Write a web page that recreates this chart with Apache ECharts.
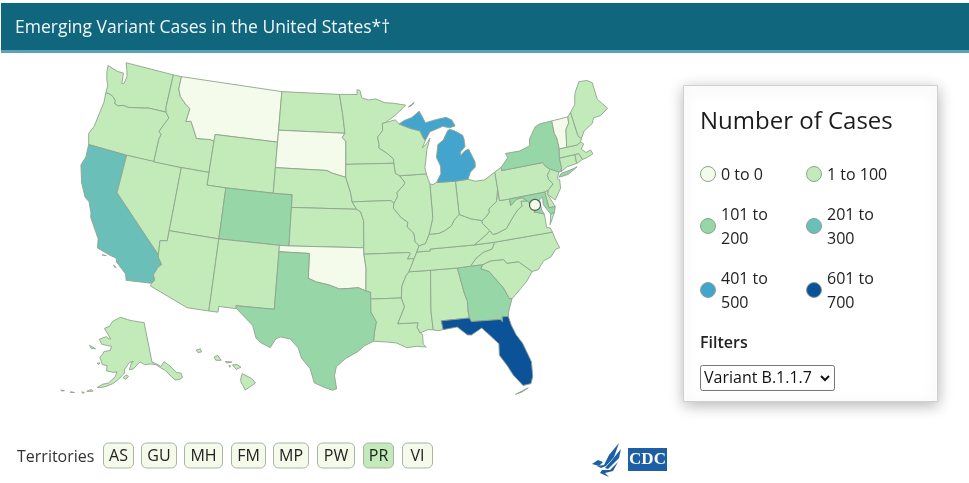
<!DOCTYPE html>
<html>
<head>
<meta charset="utf-8">
<title>Emerging Variant Cases in the United States</title>
<script src="https://cdn.jsdelivr.net/npm/echarts@6/dist/echarts.min.js"></script>
<style>
html, body { margin: 0; padding: 0; background: #fff; }
#main { width: 969px; height: 483px; }
</style>
</head>
<body>
<div id="main"></div>
<script>
// case counts (each is only known to its bin)
const stateNames = ['AL','AK','AZ','AR','CA','CO','CT','DE','FL','GA','HI','ID','IL','IN','IA','KS','KY','LA','ME','MD','MA','MI','MN','MS','MO','MT','NE','NV','NH','NJ','NM','NY','NC','ND','OH','OK','OR','PA','RI','SC','SD','TN','TX','UT','VT','VA','WA','WV','WI','WY'];
const stateValues = [30,5,60,10,280,150,40,15,650,160,10,6,90,50,20,15,12,80,4,120,70,450,80,10,15,0,8,20,8,90,12,170,60,3,30,0,15,60,10,30,0,30,140,40,0,40,35,8,50,3];
const dcPoint = [-77.03, 38.9];
const dcValue = 0;

const binLabels = ['0 to 0','1 to 100','101 to\n200','201 to\n300','401 to\n500','601 to\n700'];
const binMins = [0,1,101,201,401,601];
const binMaxs = [0,100,200,300,500,700];
const binColors = ['#f5fbea','#c2ebb9','#97d6a7','#6abfb9','#43a5cd','#0b5299'];

const territoryNames = ['AS','GU','MH','FM','MP','PW','PR','VI'];
const territoryValues = [0,0,0,0,0,0,20,0];

// state outlines, "lon lat" pairs with west longitude written positive
const stateShapes = {
  WA: ['124.73 48.38,123.5 48.15,122.75 48.15,122.6 47.3,122.35 47.4,122.25 48,122.5 48.5,122.8 49,117.03 49,117.04 46.42,116.92 46,118.98 46,119.3 45.93,121.2 45.65,121.8 45.7,122.3 45.55,122.76 45.65,122.8 45.9,123.2 46.15,123.55 46.25,124.05 46.27,124.1 46.9,124.4 47.3,124.65 47.9'],
  OR: ['124.05 46.27,123.95 45.5,124.07 44.6,124.2 43.5,124.55 42.84,124.2 42,120 42,117.03 42,117.03 43.8,116.9 44.2,117.2 44.4,116.85 45,116.46 45.6,116.92 46,118.98 46,119.3 45.93,121.2 45.65,121.8 45.7,122.3 45.55,122.76 45.65,122.8 45.9,123.2 46.15,123.55 46.25'],
  CA: ['124.2 42,120 42,120 39,114.63 35,114.57 34.8,114.14 34.3,114.43 34.05,114.72 33.4,114.5 33,114.72 32.72,117.12 32.53,117.3 33,118.4 33.75,118.5 34.03,119.2 34.15,120.5 34.45,120.65 35.15,121.9 36.6,122 36.95,122.5 37.75,123 38,123.75 39,124.35 40.3,124.1 41',
       '119.9 34.02,119.5 34.04,119.55 33.95','118.6 33.47,118.3 33.33,118.45 33.33'],
  NV: ['120 42,114.04 42,114.04 37,114.04 36.2,114.74 36.1,114.63 35,120 39'],
  ID: ['117.03 49,116.05 49,116.05 48,115.7 47.45,114.95 46.95,114.35 46.65,114.5 45.6,113.95 45.7,113.45 45.05,113 44.45,111.5 44.55,111.05 44.48,111.05 42,114.04 42,117.03 42,117.03 43.8,116.9 44.2,117.2 44.4,116.85 45,116.46 45.6,116.92 46,117.04 46.42'],
  MT: ['116.05 49,104.05 49,104.05 45.94,104.05 45,111.05 45,111.05 44.48,111.5 44.55,113 44.45,113.45 45.05,113.95 45.7,114.5 45.6,114.35 46.65,114.95 46.95,115.7 47.45,116.05 48'],
  WY: ['111.05 45,104.05 45,104.05 43,104.05 41,109.05 41,111.05 41,111.05 42,111.05 44.48'],
  UT: ['114.04 42,111.05 42,111.05 41,109.05 41,109.05 37,114.04 37'],
  CO: ['109.05 41,104.05 41,102.05 41,102.05 40,102.05 37,103 37,109.05 37'],
  AZ: ['114.04 37,109.05 37,109.05 31.33,111.07 31.33,114.8 32.5,114.72 32.72,114.5 33,114.72 33.4,114.43 34.05,114.14 34.3,114.57 34.8,114.63 35,114.74 36.1,114.04 36.2'],
  NM: ['109.05 37,103 37,103 36.5,103.04 32,106.62 32,106.53 31.78,108.2 31.78,108.2 31.33,109.05 31.33'],
  ND: ['104.05 49,97.23 49,96.85 47.5,96.56 45.94,104.05 45.94'],
  SD: ['104.05 45.94,96.56 45.94,96.85 45.6,96.45 45.3,96.45 43.5,96.45 42.49,97.9 42.8,98.5 43,104.05 43,104.05 45'],
  NE: ['104.05 43,98.5 43,97.9 42.8,96.45 42.49,96.1 41.7,95.9 41.2,95.77 40.58,95.31 40,102.05 40,102.05 41,104.05 41'],
  KS: ['102.05 40,95.31 40,94.9 39.8,94.6 39.1,94.62 37,102.05 37'],
  OK: ['103 37,102.05 37,94.62 37,94.62 36.5,94.43 35.4,94.48 33.64,95.2 33.9,96 33.85,97 33.8,98 34.1,99.2 34.3,100 34.56,100 36.5,103 36.5'],
  TX: ['103 36.5,100 36.5,100 34.56,99.2 34.3,98 34.1,97 33.8,96 33.85,95.2 33.9,94.48 33.64,94.04 33.55,94.04 33,94.04 32,93.55 31.2,93.75 30.4,93.85 29.7,94.7 29.35,95.3 28.9,96.4 28.35,97.2 27.7,97.35 27,97.15 25.96,97.5 25.85,98.2 26.05,99.1 26.4,99.5 27.5,100.3 28.3,100.65 29.1,101.4 29.77,102.3 29.88,102.7 29.7,103.15 28.98,104 29.3,104.5 29.65,104.9 30.6,106 31.4,106.53 31.78,106.62 32,103.04 32'],
  MN: ['97.23 49,95.15 49,95.15 49.38,94.8 49.32,94.6 48.72,93.8 48.55,92.95 48.62,92 48.3,90.8 48.2,89.5 48,90.8 47.25,92 46.7,92.3 46.66,92.3 46.1,92.9 45.6,92.75 45,92.8 44.75,91.9 44.3,91.25 43.85,91.22 43.5,96.45 43.5,96.45 45.3,96.85 45.6,96.56 45.94,96.85 47.5'],
  IA: ['96.45 43.5,91.22 43.5,91.1 42.7,90.65 42.5,90.15 41.95,90.3 41.75,91.05 41.2,91 40.9,91.42 40.38,91.73 40.61,95.77 40.58,95.9 41.2,96.1 41.7,96.45 42.49'],
  MO: ['95.77 40.58,91.73 40.61,91.42 40.38,91.5 40,90.75 39.25,90.1 38.85,90.2 38.5,89.55 37.95,89.5 37.3,89.13 36.98,89.4 36.5,89.7 36,90.37 36,90.07 36.4,90.15 36.5,94.62 36.5,94.62 37,94.6 39.1,94.9 39.8,95.31 40'],
  AR: ['94.62 36.5,90.15 36.5,90.07 36.4,90.37 36,89.7 36,90.05 35.4,90.3 35,90.6 34.7,91.05 33.9,91.15 33,94.04 33,94.04 33.55,94.48 33.64,94.43 35.4'],
  LA: ['94.04 33,91.15 33,90.9 32.3,91.6 31,89.73 31,89.85 30.65,89.6 30.18,89.4 30.05,89.4 29.8,89.4 29.3,89.15 29.05,90 29.15,90.9 29.1,91.8 29.5,92.6 29.6,93.85 29.7,93.75 30.4,93.55 31.2,94.04 32'],
  MS: ['90.3 35,88.2 35,88.47 31.9,88.4 30.35,88.9 30.4,89.6 30.18,89.85 30.65,89.73 31,91.6 31,90.9 32.3,91.15 33,91.05 33.9,90.6 34.7'],
  AL: ['88.2 35,85.6 34.98,85.18 32.87,85 32.3,85.05 31.55,85 31,87.6 31,87.5 30.3,88 30.25,88.4 30.35,88.47 31.9'],
  GA: ['85.6 34.98,84.32 35,83.1 35,83.35 34.7,82.6 34.4,81.9 33.5,81.5 33,81.1 32.1,80.85 32.03,81.3 31.2,81.45 30.72,82 30.75,82.05 30.36,82.2 30.57,84.86 30.7,85 31,85.05 31.55,85 32.3,85.18 32.87'],
  FL: ['87.6 31,85 31,84.86 30.7,82.2 30.57,82.05 30.36,82 30.75,81.45 30.72,81.3 30,81 29.2,80.55 28.45,80.05 26.9,80.15 25.75,80.4 25.2,81.1 25.15,81.8 26.1,82.2 26.9,82.75 27.8,82.65 28.7,83.4 29.5,84 30.1,85 29.65,85.35 29.7,86.2 30.4,87.5 30.3',
       '81.85 24.55,81.3 24.65,80.7 24.9,81.2 24.75'],
  SC: ['83.35 34.7,83.1 35,82.35 35.2,81.05 35.15,80.8 34.82,79.67 34.8,78.55 33.86,79.2 33.2,79.9 32.7,80.85 32.03,81.1 32.1,81.5 33,81.9 33.5,82.6 34.4'],
  NC: ['84.32 35,83.1 35,82.35 35.2,81.05 35.15,80.8 34.82,79.67 34.8,78.55 33.86,77.95 33.9,77.3 34.5,76.5 34.7,75.9 35.2,75.5 35.25,75.75 36,75.87 36.55,81.68 36.59,82 36.1,82.9 35.95,83.7 35.55'],
  TN: ['90.3 35,88.2 35,85.6 34.98,84.32 35,83.7 35.55,82.9 35.95,82 36.1,81.68 36.59,83.67 36.6,88.07 36.65,88.07 36.5,89.4 36.5,89.7 36,90.05 35.4'],
  KY: ['89.4 36.5,88.07 36.5,88.07 36.65,83.67 36.6,82.3 37.3,81.97 37.54,82.6 38.17,82.6 38.4,83.7 38.65,84.3 38.9,84.82 39.1,85.4 38.7,85.75 38.27,86.5 37.95,87.1 37.8,88.05 37.8,88.5 37.1,89.13 36.98'],
  VA: ['83.67 36.6,81.68 36.59,75.87 36.55,76 36.9,76.35 37,76.3 37.6,76.3 38.05,76.95 38.3,77.25 38.35,77.05 38.8,77.5 39.1,77.72 39.32,78.35 39.4,78.35 39,78.87 38.76,79.3 38.42,80.3 37.5,81.25 37.25,81.7 37.2,81.97 37.54,82.3 37.3',
       '75.65 37.95,75.25 38.03,75.95 37.15'],
  WV: ['81.97 37.54,81.7 37.2,81.25 37.25,80.3 37.5,79.3 38.42,78.87 38.76,78.35 39,78.35 39.4,77.72 39.32,78.2 39.65,78.75 39.6,79.48 39.2,79.48 39.72,80.52 39.72,80.52 40.64,80.85 39.7,81.75 39.2,81.75 38.95,82.2 38.6,82.6 38.4,82.6 38.17'],
  OH: ['84.82 39.1,84.3 38.9,83.7 38.65,82.6 38.4,82.2 38.6,81.75 38.95,81.75 39.2,80.85 39.7,80.52 40.64,80.52 41.98,81.7 41.5,82.7 41.5,83.45 41.73,84.8 41.7'],
  IN: ['87.52 41.7,87.2 41.62,86.8 41.76,84.8 41.7,84.82 39.1,85.4 38.7,85.75 38.27,86.5 37.95,87.1 37.8,88.05 37.8,87.55 39,87.53 39.35'],
  IL: ['90.65 42.5,87.8 42.5,87.52 41.7,87.53 39.35,87.55 39,88.05 37.8,88.5 37.1,89.13 36.98,89.5 37.3,89.55 37.95,90.2 38.5,90.1 38.85,90.75 39.25,91.5 40,91.42 40.38,91 40.9,91.05 41.2,90.3 41.75,90.15 41.95'],
  WI: ['92.3 46.66,90.8 46.9,90.4 46.55,89.1 46.13,88.1 45.9,87.8 45.35,87.6 45.1,88 44.55,87.5 44.85,87.05 45.25,87.5 44.4,87.75 43.5,87.9 43,87.8 42.5,90.65 42.5,91.1 42.7,91.22 43.5,91.25 43.85,91.9 44.3,92.8 44.75,92.75 45,92.9 45.6,92.3 46.1'],
  MI: ['90.4 46.55,89.1 46.13,88.1 45.9,87.8 45.35,87.6 45.1,87 45.75,86.3 45.9,85.5 46.08,84.75 45.9,84.1 46,84.4 46.5,85 46.75,86.1 46.67,87.4 46.5,88 47.45,88.9 47,89.8 46.8',
       '86.8 41.76,86.25 42.4,86.2 43,86.55 43.7,86.25 44.7,85.6 45,85 45.7,84.75 45.78,84.2 45.6,83.4 45.2,83.3 44.85,83.3 44.3,83.9 43.9,83.9 43.65,83.4 43.95,82.95 44.06,82.45 43,82.5 42.6,83.1 42.25,83.45 41.73,84.8 41.7',
       '89.2 47.85,88.5 48.17,88.9 47.9'],
  PA: ['80.52 41.98,79.76 42.27,79.76 42,75.35 42,75.05 41.6,74.7 41.36,75.15 40.95,75.1 40.6,74.75 40.2,75.4 39.8,75.79 39.72,79.48 39.72,80.52 39.72,80.52 40.64'],
  NY: ['79.76 42.27,78.9 42.9,79.05 43.27,77.5 43.25,76.3 43.5,76.2 44,75.3 44.85,74.7 45,73.35 45.01,73.4 44,73.25 43.6,73.27 42.75,73.5 42.05,73.5 41.3,73.65 41,73.9 41,74.7 41.36,75.05 41.6,75.35 42,79.76 42',
       '74 40.6,73 40.65,71.9 41.05,72.6 40.95,73.7 40.85'],
  NJ: ['74.7 41.36,73.9 41,74.2 40.5,74 40.4,74.1 39.75,74.9 38.95,75.55 39.5,75.4 39.8,74.75 40.2,75.1 40.6,75.15 40.95'],
  DE: ['75.79 39.72,75.4 39.8,75.55 39.5,75.05 38.45,75.7 38.46'],
  MD: ['79.48 39.72,75.79 39.72,75.7 38.46,75.05 38.45,75.25 38.03,75.65 37.95,75.9 38.3,76.2 38.8,76.1 39.4,76.5 39.2,76.45 38.4,76.3 38.05,76.95 38.3,77.25 38.35,77.05 38.8,77.5 39.1,77.72 39.32,78.2 39.65,78.75 39.6,79.48 39.2'],
  CT: ['73.5 42.05,71.8 42.02,71.85 41.32,72.9 41.25,73.65 41,73.5 41.3'],
  RI: ['71.8 42.02,71.38 42.02,71.15 41.5,71.85 41.32'],
  MA: ['73.27 42.75,72.46 42.73,71.3 42.7,70.85 42.87,70.6 42.65,71 42.3,70.6 41.95,70.05 42.05,69.95 41.7,70.65 41.55,71.15 41.5,71.38 42.02,71.8 42.02,73.5 42.05'],
  VT: ['73.35 45.01,71.5 45.01,71.6 44.5,72.05 44.1,72.46 42.73,73.27 42.75,73.25 43.6,73.4 44'],
  NH: ['71.5 45.01,71.08 45.3,70.97 43.4,70.7 43.08,70.85 42.87,71.3 42.7,72.46 42.73,72.05 44.1,71.6 44.5'],
  ME: ['71.08 45.3,70.4 45.8,70.25 46.2,70 46.7,69.23 47.45,68.3 47.35,67.8 47.07,67.8 45.7,67.45 45.3,67 44.8,68 44.4,68.8 44.4,69.1 44,70.2 43.6,70.7 43.08,70.97 43.4'],
  AK: ['141 69.65,141 60.3,139.5 59.9,137.5 58.9,135.5 59.8,133.5 58.4,131.8 56.6,130 56,130.1 55,131.5 54.8,133.2 55,134.5 56.2,136 57.8,137.5 58.5,139.5 59.6,142 60,144.5 60,146.5 60.8,148.5 60,150 59.3,151.8 59.2,150.5 60.9,149.7 61,151.5 60.9,152.5 60.3,154 59.2,154 58.4,156.5 57,158.5 56,161.5 55.1,163.5 54.7,164.9 54.6,163 55.5,160.5 56,158 57.5,157.3 58.7,158.8 58.5,162 58.7,162 59.9,164.3 60,165.3 61,166 61.6,164.8 62.5,164.5 63,161.2 63.5,161 64.5,163 64.5,166.3 64.6,168.1 65.6,164.5 66.5,163 66.1,161.8 66.1,163.7 67.1,166.5 68.3,163.5 69,162 70.2,159 70.9,156.6 71.35,152 70.8,148 70.4,144 70',
       '154.6 57.4,153.2 58,152.2 57.7,153.5 57','167 53.9,166.2 53.6,168 53.3,168.6 53.3','170.4 52.9,169.4 52.9,170 52.6','174.5 52.2,173 52.3,174.5 52','178.2 51.8,176.8 52,177.5 51.7','165.5 60.3,166.8 60.1,165.9 59.9','172.5 63.7,169 63.3,171 63.1'],
  HI: ['155.9 20.25,155.1 19.85,154.8 19.5,155.65 18.95,156.05 19.7','156.7 20.95,156.3 20.95,156 20.75,156.4 20.58','157.3 21.2,156.75 21.17,157.2 21.08','158.25 21.55,157.95 21.7,157.65 21.3,158.1 21.3','159.75 22.1,159.4 22.2,159.3 21.95,159.6 21.9','157 20.9,156.85 20.85,156.95 20.75']
};

function shapesToGeoJson() {
    var features = [];
    for (var name in stateShapes) {
        var polygons = stateShapes[name].map(function (ring) {
            var pts = ring.split(',').map(function (p) {
                var s = p.split(' ');
                return [-parseFloat(s[0]), parseFloat(s[1])];
            });
            pts.push(pts[0]);
            return [pts];
        });
        features.push({
            type: 'Feature',
            properties: { name: name },
            geometry: { type: 'MultiPolygon', coordinates: polygons }
        });
    }
    return { type: 'FeatureCollection', features: features };
}

// conic equal area, same setup as the usual composite USA map
function albers(lon0, p1, p2, cLon, cLat, k, tx, ty) {
    var r = Math.PI / 180;
    var n = (Math.sin(p1 * r) + Math.sin(p2 * r)) / 2;
    var c = Math.cos(p1 * r) * Math.cos(p1 * r) + 2 * n * Math.sin(p1 * r);
    var base = function (lon, lat) {
        var rho = Math.sqrt(c - 2 * n * Math.sin(lat * r)) / n;
        var t = n * (lon - lon0) * r;
        return [rho * Math.sin(t), rho * Math.cos(t)];
    };
    var o = base(cLon, cLat);
    return function (p) {
        var q = base(p[0], p[1]);
        return [tx + k * (q[0] - o[0]), ty + k * (q[1] - o[1])];
    };
}

const mapK = 730, mapX = 344, mapY = 226;
const lower48 = albers(-96, 29.5, 45.5, -96.6, 38.7, mapK, mapX, mapY);
const alaska = albers(-154, 55, 65, -156, 58.5, mapK * 0.34, mapX - 0.307 * mapK, mapY + 0.201 * mapK);
const hawaii = albers(-157, 8, 18, -160, 19.9, mapK, mapX - 0.207 * mapK, mapY + 0.208 * mapK);

function projectUsa(p) {
    if (p[1] > 50) return alaska(p);
    if (p[0] < -150) return hawaii(p);
    return lower48(p);
}

function mapBox(geo) {
    var x0 = 1e9, x1 = -1e9, y0 = 1e9, y1 = -1e9;
    geo.features.forEach(function (f) {
        f.geometry.coordinates.forEach(function (poly) {
            poly[0].forEach(function (p) {
                var q = projectUsa(p);
                x0 = Math.min(x0, q[0]); x1 = Math.max(x1, q[0]);
                y0 = Math.min(y0, q[1]); y1 = Math.max(y1, q[1]);
            });
        });
    });
    return { left: x0, top: y0, width: x1 - x0, height: y1 - y0 };
}

const fontName = '"Open Sans", "Noto Sans", sans-serif';

function txt(x, y, text, size, color, extra) {
    return {
        type: 'text', x: x, y: y, z: 10,
        style: Object.assign({
            text: text, fontFamily: fontName, fontSize: size, fill: color,
            verticalAlign: 'middle', lineHeight: 24
        }, extra || {})
    };
}

function buildGraphic() {
    var items = [];
    // header bar
    items.push({ type: 'rect', shape: { x: 1, y: 3, width: 968, height: 47 }, style: { fill: '#10677d' } });
    items.push({ type: 'rect', shape: { x: 1, y: 50, width: 968, height: 3 }, style: { fill: '#5aa3b5' } });
    items.push(txt(15, 28, 'Emerging Variant Cases in the United States*\u2020', 17.5, '#f2f7f9'));

    // legend card
    items.push({
        type: 'rect', z: 1,
        shape: { x: 683.5, y: 85.5, width: 254, height: 316 },
        style: { fill: '#fff', stroke: '#cfcfcf', lineWidth: 1, shadowBlur: 14, shadowColor: 'rgba(0,0,0,0.28)', shadowOffsetY: 3 }
    });
    items.push(txt(700, 122, 'Number of Cases', 24, '#1c1c1c'));

    var colX = [708, 814], rowY = [174, 226, 290];
    binLabels.forEach(function (label, i) {
        var cx = colX[i % 2], cy = rowY[Math.floor(i / 2)];
        items.push({
            type: 'circle', z: 10, shape: { cx: cx, cy: cy, r: 7.5 },
            style: { fill: binColors[i], stroke: '#8aa58c', lineWidth: 1 }
        });
        items.push(txt(cx + 13, cy + 1, label, 16, '#222'));
    });

    items.push(txt(700, 343, 'Filters', 16, '#222', { fontWeight: 600 }));
    items.push({
        type: 'rect', z: 10, shape: { x: 700.5, y: 365.5, width: 134, height: 25, r: 2 },
        style: { fill: '#fff', stroke: '#777', lineWidth: 1 }
    });
    items.push(txt(704, 378, 'Variant B.1.1.7', 16, '#111'));
    items.push({
        type: 'polyline', z: 10, shape: { points: [[821, 376], [825, 380], [829, 376]] },
        style: { stroke: '#111', lineWidth: 2, fill: null }
    });

    // territories row
    items.push(txt(17, 457, 'Territories', 16, '#333'));
    var tx = [103, 141, 184, 231, 273, 317, 363, 402];
    var tw = [30, 35, 38, 34, 35, 37, 30, 30];
    territoryNames.forEach(function (name, i) {
        items.push({
            type: 'rect', z: 10, shape: { x: tx[i] + 0.5, y: 443, width: tw[i], height: 25, r: 5 },
            style: { fill: territoryValues[i] > 0 ? binColors[1] : binColors[0], stroke: '#a9b3a6', lineWidth: 1 }
        });
        items.push(txt(tx[i] + tw[i] / 2 + 0.5, 456, name, 16, '#222', { align: 'center', fontWeight: 500 }));
    });

    // logos
    [[[592, 464], [598, 460], [603, 462], [599, 466]],
     [[597, 466], [604, 465], [609, 455], [619, 443], [614, 457], [606, 466], [601, 468]],
     [[605, 468], [612, 460], [621, 449], [619, 458], [608, 469]],
     [[602, 470], [610, 470], [618, 462], [613, 471], [605, 473], [609, 477], [600, 473]]].forEach(function (pts) {
        items.push({ type: 'polygon', z: 10, shape: { points: pts }, style: { fill: '#1c5fa5' } });
    });
    items.push({ type: 'rect', z: 10, shape: { x: 628, y: 448, width: 39, height: 23 }, style: { fill: '#1c5fa5' } });
    items.push(txt(647.5, 460, 'CDC', 17, '#fff', { align: 'center', fontFamily: '"Liberation Serif", serif', fontWeight: 700 }));
    return items;
}

var usGeo = shapesToGeoJson();
echarts.registerMap('USA', usGeo);
var box = mapBox(usGeo);

var myChart = echarts.init(document.getElementById('main'), null, { renderer: 'canvas' });
var option = {
    animation: false,
    backgroundColor: '#fff',
    tooltip: { show: false },
    visualMap: {
        show: false,
        type: 'piecewise',
        seriesIndex: 0,
        pieces: binLabels.map(function (label, i) {
            return { min: binMins[i], max: binMaxs[i], color: binColors[i] };
        })
    },
    geo: {
        map: 'USA',
        silent: true,
        roam: false,
        projection: {
            project: projectUsa,
            unproject: function (p) { return p; }
        },
        left: box.left,
        top: box.top,
        width: box.width,
        height: box.height,
        itemStyle: { borderColor: '#8fa48f', borderWidth: 0.9, areaColor: binColors[1] }
    },
    series: [
        {
            type: 'map',
            geoIndex: 0,
            data: stateNames.map(function (n, i) { return { name: n, value: stateValues[i] }; })
        },
        {
            type: 'scatter',
            coordinateSystem: 'geo',
            symbolSize: 11,
            silent: true,
            itemStyle: { color: binColors[0], borderColor: '#4d5f50', borderWidth: 1.2, opacity: 1 },
            data: [{ name: 'DC', value: dcPoint.concat(dcValue) }]
        }
    ],
    graphic: buildGraphic()
};
myChart.setOption(option);
window.addEventListener('resize', myChart.resize);
</script>
</body>
</html>
